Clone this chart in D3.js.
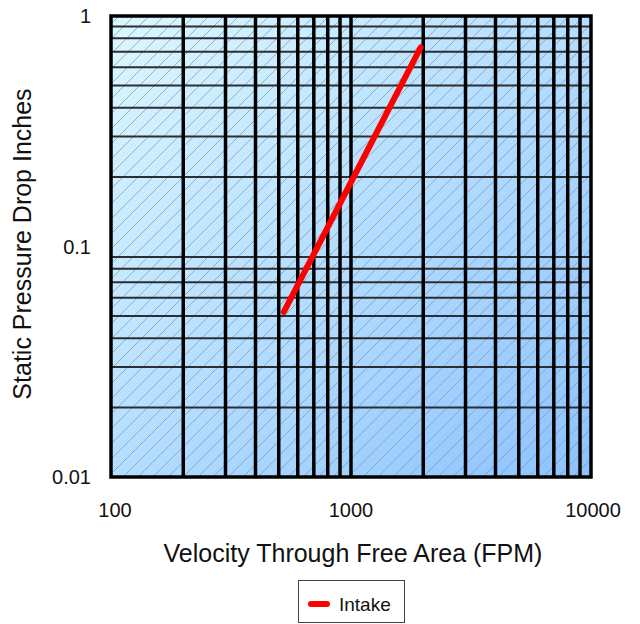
<html>
<head>
<script src="https://d3js.org/d3.v7.min.js"></script>
<style>
  body { margin: 0; background: #fff; }
  text { font-family: "Liberation Sans", Arial, sans-serif; fill: #111; }
</style>
</head>
<body>
<svg width="640" height="624"></svg>
<script>
var velocity = [525, 1000, 1500, 1950];
var pressure = [0.052, 0.19, 0.43, 0.73];
var xTicks = [100, 1000, 10000];
var yTicks = [0.01, 0.1, 1];
var seriesName = "Intake";

var svg = d3.select("svg");
var plot = {left: 111, right: 591, top: 16, bottom: 477};

var x = d3.scaleLog().domain([100, 10000]).range([plot.left, plot.right]);
var y = d3.scaleLog().domain([0.01, 1]).range([plot.bottom, plot.top]);

var defs = svg.append("defs");
var grad = defs.append("linearGradient").attr("id", "bg")
  .attr("x1", "0%").attr("y1", "0%").attr("x2", "100%").attr("y2", "100%");
grad.append("stop").attr("offset", "0%").attr("stop-color", "#dcf8ff");
grad.append("stop").attr("offset", "100%").attr("stop-color", "#8cc2ff");

var hatch = defs.append("pattern").attr("id", "hatch")
  .attr("patternUnits", "userSpaceOnUse").attr("width", 15).attr("height", 15);
hatch.append("path").attr("d", "M0,15 L15,0 M-4,4 L4,-4 M11,19 L19,11")
  .attr("stroke", "#7f93a6").attr("stroke-width", 0.7);

var w = plot.right - plot.left, h = plot.bottom - plot.top;
svg.append("rect").attr("x", plot.left).attr("y", plot.top)
  .attr("width", w).attr("height", h).attr("fill", "url(#bg)");
svg.append("rect").attr("x", plot.left).attr("y", plot.top)
  .attr("width", w).attr("height", h).attr("fill", "url(#hatch)");

// grid - horizontal lines at every log tick
var yGrid = y.ticks().filter(function(d){ return yTicks.indexOf(d) < 0; });
svg.append("g").selectAll("line").data(yGrid).enter().append("line")
  .attr("x1", plot.left).attr("x2", plot.right)
  .attr("y1", function(d){ return y(d); }).attr("y2", function(d){ return y(d); })
  .attr("stroke", "#2b2f33").attr("stroke-width", 2);

var xGrid = x.ticks().filter(function(d){ return d > 100 && d < 10000; });
svg.append("g").selectAll("line").data(xGrid).enter().append("line")
  .attr("y1", plot.top).attr("y2", plot.bottom)
  .attr("x1", function(d){ return x(d); }).attr("x2", function(d){ return x(d); })
  .attr("stroke", "#000").attr("stroke-width", 3.5);

svg.append("rect").attr("x", plot.left).attr("y", plot.top)
  .attr("width", w).attr("height", h)
  .attr("fill", "none").attr("stroke", "#000").attr("stroke-width", 3.5);

// tick labels
svg.append("g").selectAll("text").data(yTicks).enter().append("text")
  .attr("x", 91).attr("y", function(d){ return y(d) + 7; })
  .attr("text-anchor", "end").attr("font-size", 20)
  .text(function(d){ return d; });

svg.append("g").selectAll("text").data(xTicks).enter().append("text")
  .attr("x", function(d, i){ return x(d) + (i == 0 ? 4 : (i == 2 ? 2 : 0)); })
  .attr("y", 517)
  .attr("text-anchor", "middle").attr("font-size", 20)
  .text(function(d){ return d; });

svg.append("text").attr("x", 353).attr("y", 562)
  .attr("text-anchor", "middle").attr("font-size", 25)
  .text("Velocity Through Free Area (FPM)");

svg.append("text").attr("transform", "translate(31,244) rotate(-90)")
  .attr("text-anchor", "middle").attr("font-size", 25)
  .text("Static Pressure Drop Inches");

// series
var pts = velocity.map(function(v, i){ return [v, pressure[i]]; });
svg.append("path").datum(pts)
  .attr("d", d3.line().x(function(d){ return x(d[0]); }).y(function(d){ return y(d[1]); }))
  .attr("fill", "none").attr("stroke", "#ff0000").attr("stroke-width", 6)
  .attr("stroke-linecap", "round");

// legend
var lg = svg.append("g");
lg.append("rect").attr("x", 298.5).attr("y", 580.5).attr("width", 106).attr("height", 42)
  .attr("fill", "#fff").attr("stroke", "#444").attr("stroke-width", 1);
lg.append("line").attr("x1", 311).attr("x2", 327).attr("y1", 604).attr("y2", 604)
  .attr("stroke", "#ff0000").attr("stroke-width", 6).attr("stroke-linecap", "round");
lg.append("text").attr("x", 339).attr("y", 611).attr("font-size", 19).text(seriesName);
</script>
</body>
</html>
